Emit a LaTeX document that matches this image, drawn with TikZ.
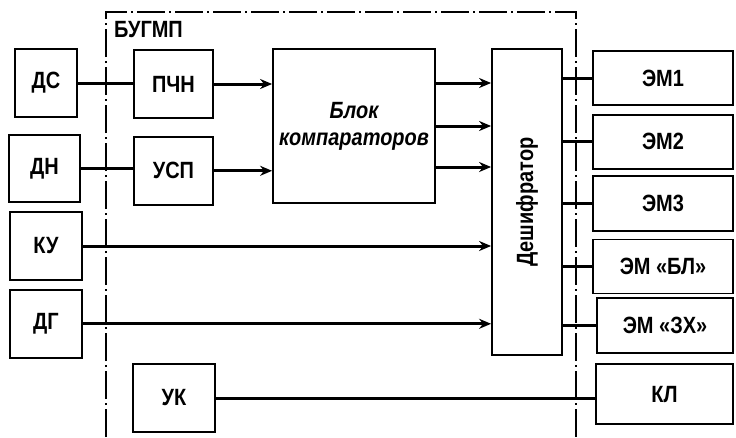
\documentclass[tikz,border=0pt]{standalone}
\usepackage{fontspec}
\setmainfont{Liberation Sans}
\newfontfamily\narrowsans[FakeStretch=0.85]{Liberation Sans}
\usetikzlibrary{arrows.meta,positioning}

\begin{document}
\begin{tikzpicture}[
  x=1pt, y=1pt,
  blk/.style={draw, line width=1.8pt, inner sep=0pt, align=center, font=\narrowsans\fontsize{23.5}{27}\selectfont\bfseries},
  lbl/.style={inner sep=0pt, font=\narrowsans\fontsize{23.5}{27}\selectfont\bfseries},
  lnk/.style={line width=3pt},
  arr/.style={-{Stealth[length=12pt,width=10pt]}, line width=3pt},
  frame/.style={line width=2pt, dash pattern=on 28pt off 4pt on 2pt off 4pt},
]
  \useasboundingbox (0,0) rectangle (736,-437);

  % left column
  \node[blk, minimum width=62, minimum height=68] (ds) at (46,-83) {ДС};
  \node[blk, minimum width=71, minimum height=67] (dn) at (44.5,-168.5) {ДН};
  \node[blk, minimum width=72, minimum height=68] (ku) at (46,-246) {КУ};
  \node[blk, minimum width=72, minimum height=68, below=8pt of ku] (dg) {ДГ};

  % inside the unit
  \node[lbl, anchor=west] (bugmp) at (114,-30) {БУГМП};
  \node[blk, minimum width=79, minimum height=68] (pchn) at (173.5,-84) {ПЧН};
  \node[blk, minimum width=79, minimum height=68, below=17pt of pchn] (usp) {УСП};
  \node[blk, minimum width=82, minimum height=68] (uk) at (174,-398) {УК};
  \node[blk, minimum width=162, minimum height=154, font=\narrowsans\fontsize{23.5}{27}\selectfont\bfseries\itshape] (blok) at (354,-126) {Блок\\компараторов};
  \node[blk, minimum width=70, minimum height=306] (desh) at (527,-202) {};
  \node[lbl, rotate=90] (deshtxt) at (desh.center) {Дешифратор};

  % right column
  \node[blk, minimum width=140, minimum height=54] (em1) at (663,-78) {ЭМ1};
  \node[blk, minimum width=140, minimum height=54, below=8pt of em1] (em2) {ЭМ2};
  \node[blk, minimum width=140, minimum height=55, below=5pt of em2] (em3) {ЭМ3};
  \node[blk, minimum width=140, minimum height=54, below=7pt of em3] (embl) {ЭМ «БЛ»};
  \node[blk, minimum width=136, minimum height=55] (emzh) at (665,-325.5) {ЭМ «ЗХ»};
  \node[blk, minimum width=137, minimum height=60] (kl) at (664.5,-394) {КЛ};

  % unit border
  \draw[frame] (106,-437) -- (106,-12) -- (576,-12) -- (576,-437);

  \draw[lnk] (ds.east) -- (ds.east -| pchn.west);
  \draw[lnk] (dn.east) -- (dn.east -| usp.west);
  \draw[arr] (pchn.east) -- (pchn.east -| blok.west);
  \draw[arr] (usp.east) -- (usp.east -| blok.west);
  \draw[arr] ([yshift=43]blok.east) -- ([yshift=43]blok.east -| desh.west);
  \draw[arr] (blok.east) -- (blok.east -| desh.west);
  \draw[arr] ([yshift=-41]blok.east) -- ([yshift=-41]blok.east -| desh.west);
  \draw[arr] (ku.east) -- (ku.east -| desh.west);
  \draw[arr] (dg.east) -- (dg.east -| desh.west);
  \foreach \m in {em1,em2,em3,embl,emzh}
    \draw[lnk] (\m.west -| desh.east) -- (\m.west);
  \draw[lnk] (uk.east) -- (uk.east -| kl.west);
\end{tikzpicture}
\end{document}
